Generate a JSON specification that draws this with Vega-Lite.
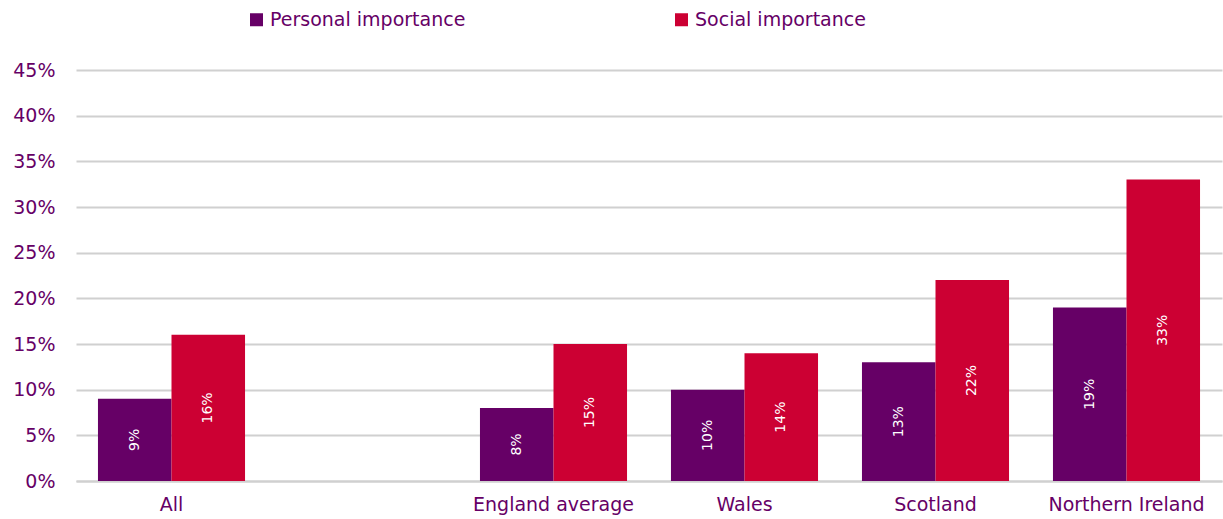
{
  "$schema": "https://vega.github.io/schema/vega-lite/v6.json",
  "autosize": "none",
  "width": 1146,
  "height": 411,
  "padding": {"left": 76, "top": 70, "right": 1, "bottom": 38},
  "background": "white",
  "config": {
    "view": {"stroke": null},
    "font": "DejaVu Sans"
  },
  "data": {
    "values": [
      {"region": "All", "measure": "Personal importance", "value": 0.09},
      {"region": "All", "measure": "Social importance", "value": 0.16},
      {"region": "England average", "measure": "Personal importance", "value": 0.08},
      {"region": "England average", "measure": "Social importance", "value": 0.15},
      {"region": "Wales", "measure": "Personal importance", "value": 0.10},
      {"region": "Wales", "measure": "Social importance", "value": 0.14},
      {"region": "Scotland", "measure": "Personal importance", "value": 0.13},
      {"region": "Scotland", "measure": "Social importance", "value": 0.22},
      {"region": "Northern Ireland", "measure": "Personal importance", "value": 0.19},
      {"region": "Northern Ireland", "measure": "Social importance", "value": 0.33}
    ]
  },
  "encoding": {
    "x": {
      "field": "region",
      "type": "nominal",
      "sort": null,
      "scale": {
        "domain": ["All", " ", "England average", "Wales", "Scotland", "Northern Ireland"],
        "paddingInner": 0.23,
        "paddingOuter": 0.115
      },
      "axis": {
        "title": null,
        "labelAngle": 0,
        "labelFontSize": 19,
        "labelColor": "#660066",
        "labelPadding": 14,
        "ticks": false,
        "tickSize": 0,
        "domainColor": "#D0D0D0",
        "domainWidth": 2,
        "grid": false
      }
    },
    "xOffset": {
      "field": "measure",
      "type": "nominal",
      "scale": {"paddingInner": 0, "paddingOuter": 0}
    }
  },
  "layer": [
    {
      "mark": {"type": "bar"},
      "encoding": {
        "y": {
          "field": "value",
          "type": "quantitative",
          "scale": {"domain": [0, 0.45], "nice": false},
          "axis": {
            "title": null,
            "format": ".0%",
            "values": [0, 0.05, 0.1, 0.15, 0.2, 0.25, 0.3, 0.35, 0.4, 0.45],
            "labelFontSize": 19,
            "labelColor": "#660066",
            "labelPadding": 21,
            "ticks": false,
            "tickSize": 0,
            "domain": false,
            "gridColor": "#D0D0D0",
            "gridWidth": 2
          }
        },
        "color": {
          "field": "measure",
          "type": "nominal",
          "scale": {
            "domain": ["Personal importance", "Social importance"],
            "range": ["#660066", "#CC0033"]
          },
          "legend": {
            "title": null,
            "orient": "none",
            "direction": "horizontal",
            "legendX": 171,
            "legendY": -60,
            "symbolType": "square",
            "symbolSize": 169,
            "symbolStrokeWidth": 0,
            "labelFontSize": 19,
            "labelColor": "#660066",
            "labelOffset": 4,
            "labelLimit": 400,
            "columnPadding": 206
          }
        }
      }
    },
    {
      "mark": {"type": "text", "angle": 270, "color": "white", "fontSize": 14, "align": "center", "baseline": "middle"},
      "encoding": {
        "y": {
          "field": "value",
          "type": "quantitative",
          "scale": {"domain": [0, 0.9], "nice": false},
          "axis": null
        },
        "text": {"field": "value", "type": "quantitative", "format": ".0%"}
      }
    }
  ],
  "resolve": {"scale": {"y": "independent"}}
}
